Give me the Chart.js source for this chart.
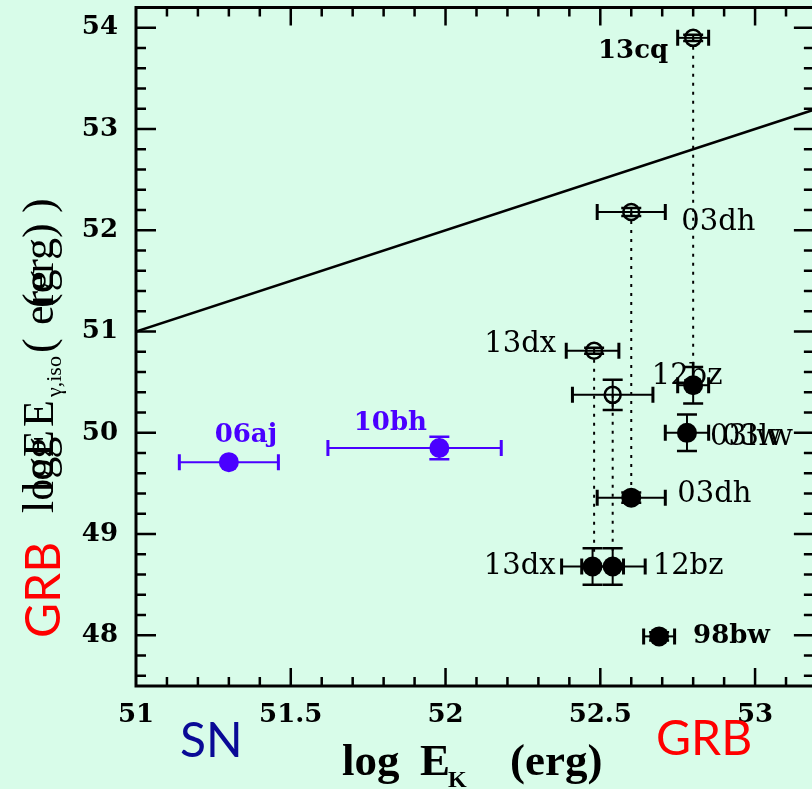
<!DOCTYPE html>
<html>
<head>
<meta charset="utf-8">
<script src="https://cdn.jsdelivr.net/npm/chart.js@4.4.1/dist/chart.umd.min.js"></script>
<style>
  html, body { margin: 0; padding: 0; background: #d8fce9; }
  #wrap { width: 812px; height: 789px; }
</style>
</head>
<body>
<div id="wrap"><canvas id="energyChart" width="812" height="789"></canvas></div>
<script>
/* ------------------------------------------------------------------ */
/*  Data                                                              */
/* ------------------------------------------------------------------ */

var X_TICKS = [51, 51.5, 52, 52.5, 53];
var Y_TICKS = [48, 49, 50, 51, 52, 53, 54];

// SNe (blue)
var SN_NAMES = ['06aj', '10bh'];
var SN_X = [51.30, 51.98];
var SN_Y = [49.71, 49.85];
var SN_XLO = [0.16, 0.36];
var SN_XHI = [0.16, 0.20];
var SN_YERR = [0, 0.11];

// GRB-SNe, filled points
var GRB_NAMES = ['', '03lw', '03dh', '13dx', '12bz', '98bw'];
var GRB_X = [52.80, 52.78, 52.60, 52.475, 52.54, 52.69];
var GRB_Y = [50.47, 50.00, 49.36, 48.68, 48.68, 47.99];
var GRB_XLO = [0.05, 0.07, 0.11, 0.10, 0.10, 0.05];
var GRB_XHI = [0.05, 0.07, 0.11, 0.10, 0.105, 0.05];
var GRB_YERR = [0.18, 0.18, 0.05, 0.18, 0.18, 0.04];

// GRB-SNe, open points (E_gamma,iso)
var ISO_NAMES = ['13cq', '03dh', '13dx', '12bz'];
var ISO_X = [52.80, 52.60, 52.48, 52.54];
var ISO_Y = [53.90, 52.18, 50.81, 50.375];
var ISO_XLO = [0.05, 0.11, 0.09, 0.13];
var ISO_XHI = [0.05, 0.11, 0.08, 0.13];
var ISO_YERR = [0.03, 0.04, 0.03, 0.15];

// dotted links between open and filled points
var LINK_X = [52.80, 52.60, 52.48, 52.54];
var LINK_TOP = [53.90, 52.18, 50.81, 50.375];
var LINK_BOTTOM = [50.47, 49.36, 48.68, 48.68];

// E_gamma,iso = E_K relation
var REL_X = [51, 53.2];
var REL_Y = [51, 53.2];

/* ------------------------------------------------------------------ */
/*  Styling                                                           */
/* ------------------------------------------------------------------ */

var BG = '#d8fce9';
var SN_COLOR = '#4a00ff';
var SERIF = '"DejaVu Serif", serif';
var TITLE_SERIF = '"Liberation Serif", serif';
var Y_TOP = 54.2;     // value at which the top frame sits
var X_RIGHT = 53.19;  // value at which the right-hand ticks sit

// label placement per dataset index: [dx, dy, align, bold]
var LABEL_PLACE = {
  sn:  [[17, -27, 'center', true], [-49, -25, 'center', true]],
  grb: [null, [23, 5, 'left', false], [46, -3, 'left', false],
        [-37, 0, 'right', false], [40, 0, 'left', false], [34, 0, 'left', true]],
  iso: [[-25, 13, 'right', true], [50, 10, 'left', false],
        [-38, -6, 'right', false], [39, -18, 'left', false]],
};

function pts(xs, ys) {
  return xs.map(function (x, i) { return { x: x, y: ys[i] }; });
}

function noPadding(s) {
  s.paddingTop = 0;
  s.paddingBottom = 0;
  s.paddingLeft = 0;
  s.paddingRight = 0;
}

/* ------------------------------------------------------------------ */
/*  Plugin: background, error bars, labels, frame, titles             */
/* ------------------------------------------------------------------ */

var decorPlugin = {
  id: 'decor',
  beforeDraw: function (chart) {
    var ctx = chart.ctx;
    ctx.save();
    ctx.fillStyle = BG;
    ctx.fillRect(0, 0, chart.width, chart.height);
    ctx.restore();
  },

  beforeDatasetsDraw: function (chart) {
    var ctx = chart.ctx;
    var xs = chart.scales.x, ys = chart.scales.y;
    chart.data.datasets.forEach(function (ds) {
      var e = ds.errorBars;
      if (!e) return;
      ctx.save();
      ctx.strokeStyle = e.color;
      ds.data.forEach(function (p, i) {
        var px = xs.getPixelForValue(p.x), py = ys.getPixelForValue(p.y);
        var x0 = xs.getPixelForValue(p.x - e.xlo[i]);
        var x1 = xs.getPixelForValue(p.x + e.xhi[i]);
        ctx.lineWidth = 2;
        ctx.beginPath();
        ctx.moveTo(x0, py); ctx.lineTo(x1, py);
        ctx.stroke();
        ctx.lineWidth = 3;
        ctx.beginPath();
        ctx.moveTo(x0, py - 8); ctx.lineTo(x0, py + 8);
        ctx.moveTo(x1, py - 8); ctx.lineTo(x1, py + 8);
        ctx.stroke();
        if (e.y[i] > 0) {
          var y0 = ys.getPixelForValue(p.y - e.y[i]);
          var y1 = ys.getPixelForValue(p.y + e.y[i]);
          ctx.lineWidth = 2;
          ctx.beginPath();
          ctx.moveTo(px, y0); ctx.lineTo(px, y1);
          ctx.stroke();
          ctx.lineWidth = 2.5;
          ctx.beginPath();
          ctx.moveTo(px - 10, y0); ctx.lineTo(px + 10, y0);
          ctx.moveTo(px - 10, y1); ctx.lineTo(px + 10, y1);
          ctx.stroke();
        }
      });
      ctx.restore();
    });
  },

  afterDatasetsDraw: function (chart) {
    var ctx = chart.ctx;
    var xs = chart.scales.x, ys = chart.scales.y;
    ctx.save();
    ctx.textBaseline = 'middle';
    chart.data.datasets.forEach(function (ds) {
      if (!ds.pointNames) return;
      var place = LABEL_PLACE[ds.key];
      ds.data.forEach(function (p, i) {
        var name = ds.pointNames[i];
        var pl = place[i];
        if (!name || !pl) return;
        var px = xs.getPixelForValue(p.x) + pl[0];
        var py = ys.getPixelForValue(p.y) + pl[1];
        ctx.fillStyle = ds.key === 'sn' ? SN_COLOR : '#000';
        ctx.font = (pl[3] ? 'bold 26px ' : '29px ') + SERIF;
        ctx.textAlign = pl[2];
        ctx.fillText(name, px, py);
        if (name === '03lw') ctx.fillText(name, px + 12, py);
      });
    });
    ctx.restore();
  },

  afterDraw: function (chart) {
    var ctx = chart.ctx;
    var a = chart.chartArea;
    var xs = chart.scales.x, ys = chart.scales.y;
    var top = ys.getPixelForValue(Y_TOP);
    var right = xs.getPixelForValue(X_RIGHT);
    var k, p, len;
    ctx.save();
    ctx.strokeStyle = '#000';

    // keep the strip above the frame clean
    ctx.fillStyle = BG;
    ctx.fillRect(a.left, 0, right - a.left, top);

    // ticks (inside, mirrored)
    ctx.lineWidth = 2.5;
    ctx.beginPath();
    for (k = 511; k <= 531; k++) {
      p = xs.getPixelForValue(k / 10);
      len = k % 5 === 0 ? 18 : 9;
      ctx.moveTo(p, a.bottom); ctx.lineTo(p, a.bottom - len);
      ctx.moveTo(p, top); ctx.lineTo(p, top + len);
    }
    for (k = 238; k <= 270; k++) {
      p = ys.getPixelForValue(k / 5);
      len = k % 5 === 0 ? 20 : 10;
      ctx.moveTo(a.left, p); ctx.lineTo(a.left + len, p);
      ctx.moveTo(right, p); ctx.lineTo(right - len, p);
    }
    ctx.stroke();

    // frame
    ctx.lineWidth = 3;
    ctx.beginPath();
    ctx.moveTo(right + 2, top);
    ctx.lineTo(a.left, top);
    ctx.lineTo(a.left, a.bottom);
    ctx.lineTo(right + 2, a.bottom);
    ctx.stroke();

    // x title
    ctx.fillStyle = '#000';
    ctx.textAlign = 'left';
    ctx.textBaseline = 'alphabetic';
    ctx.font = 'bold 45px ' + TITLE_SERIF;
    ctx.fillText('log', 342, 775);
    ctx.fillText('E', 420, 775);
    ctx.fillText('(erg)', 510, 775);
    ctx.font = 'bold 24px ' + TITLE_SERIF;
    ctx.fillText('K', 448, 787);

    // y title (two overlapping renderings, as in the original)
    ctx.save();
    ctx.translate(53, 513);
    ctx.rotate(-Math.PI / 2);
    ctx.font = '44px ' + TITLE_SERIF;
    ctx.fillText('log', 0, 0);
    ctx.fillText('E', 56, 0);
    ctx.fillText('(erg)', 205, 0);
    ctx.fillText('log', 20, 0);
    ctx.fillText('E', 86, 0);
    ctx.fillText('(', 160, 0);
    ctx.fillText('erg', 188, 0);
    ctx.fillText(')', 300, 0);
    ctx.font = '22px ' + TITLE_SERIF;
    ctx.fillText('\u03b3,iso', 116, 8);
    ctx.restore();

    // SN / GRB tags
    ctx.font = '48px Lato, sans-serif';
    ctx.fillStyle = '#0a0a96';
    ctx.fillText('SN', 180, 757);
    ctx.fillStyle = '#ff0000';
    ctx.fillText('GRB', 656, 755);
    ctx.save();
    ctx.translate(60, 638);
    ctx.rotate(-Math.PI / 2);
    ctx.fillText('GRB', 0, 0);
    ctx.restore();

    ctx.restore();
  },
};

/* ------------------------------------------------------------------ */
/*  Chart                                                             */
/* ------------------------------------------------------------------ */

var datasets = [
  {
    key: 'sn',
    data: pts(SN_X, SN_Y),
    pointNames: SN_NAMES,
    errorBars: { xlo: SN_XLO, xhi: SN_XHI, y: SN_YERR, color: SN_COLOR },
    pointRadius: 10,
    backgroundColor: SN_COLOR,
    borderColor: SN_COLOR,
    borderWidth: 0,
  },
  {
    key: 'grb',
    data: pts(GRB_X, GRB_Y),
    pointNames: GRB_NAMES,
    errorBars: { xlo: GRB_XLO, xhi: GRB_XHI, y: GRB_YERR, color: '#000' },
    pointRadius: 10,
    backgroundColor: '#000',
    borderColor: '#000',
    borderWidth: 0,
  },
  {
    key: 'iso',
    data: pts(ISO_X, ISO_Y),
    pointNames: ISO_NAMES,
    errorBars: { xlo: ISO_XLO, xhi: ISO_XHI, y: ISO_YERR, color: '#000' },
    pointRadius: 8,
    backgroundColor: 'rgba(0,0,0,0)',
    borderColor: '#000',
    borderWidth: 2.5,
  },
  {
    type: 'line',
    data: pts(REL_X, REL_Y),
    borderColor: '#000',
    borderWidth: 2.5,
    pointRadius: 0,
    fill: false,
    clip: { left: 0, top: 0, right: 20, bottom: 0 },
  },
];

LINK_X.forEach(function (x, i) {
  datasets.push({
    type: 'line',
    data: [{ x: x, y: LINK_TOP[i] }, { x: x, y: LINK_BOTTOM[i] }],
    borderColor: '#000',
    borderWidth: 2,
    borderDash: [3, 6],
    pointRadius: 0,
    fill: false,
  });
});

var tickFont = { family: SERIF, size: 26, weight: 'bold' };

new Chart(document.getElementById('energyChart').getContext('2d'), {
  type: 'scatter',
  data: { datasets: datasets },
  options: {
    responsive: false,
    animation: false,
    layout: { padding: { top: 4, left: 0, right: 0, bottom: 0 } },
    plugins: { legend: { display: false }, tooltip: { enabled: false } },
    scales: {
      x: {
        type: 'linear',
        min: 51,
        max: 53.15,
        afterBuildTicks: function (s) {
          s.ticks = X_TICKS.map(function (v) { return { value: v }; });
        },
        afterFit: function (s) { s.height = 103; noPadding(s); },
        grid: { display: false, drawTicks: false },
        border: { display: false },
        ticks: {
          color: '#000', font: tickFont, padding: 14,
          maxRotation: 0, autoSkip: false,
          callback: function (v) { return String(v); },
        },
      },
      y: {
        type: 'linear',
        min: 47.5,
        max: 54.17,
        afterBuildTicks: function (s) {
          s.ticks = Y_TICKS.map(function (v) { return { value: v }; });
        },
        afterFit: function (s) { s.width = 136; noPadding(s); },
        grid: { display: false, drawTicks: false },
        border: { display: false },
        ticks: {
          color: '#000', font: tickFont, padding: 18,
          autoSkip: false,
          callback: function (v) { return String(v); },
        },
      },
    },
  },
  plugins: [decorPlugin],
});
</script>
</body>
</html>
